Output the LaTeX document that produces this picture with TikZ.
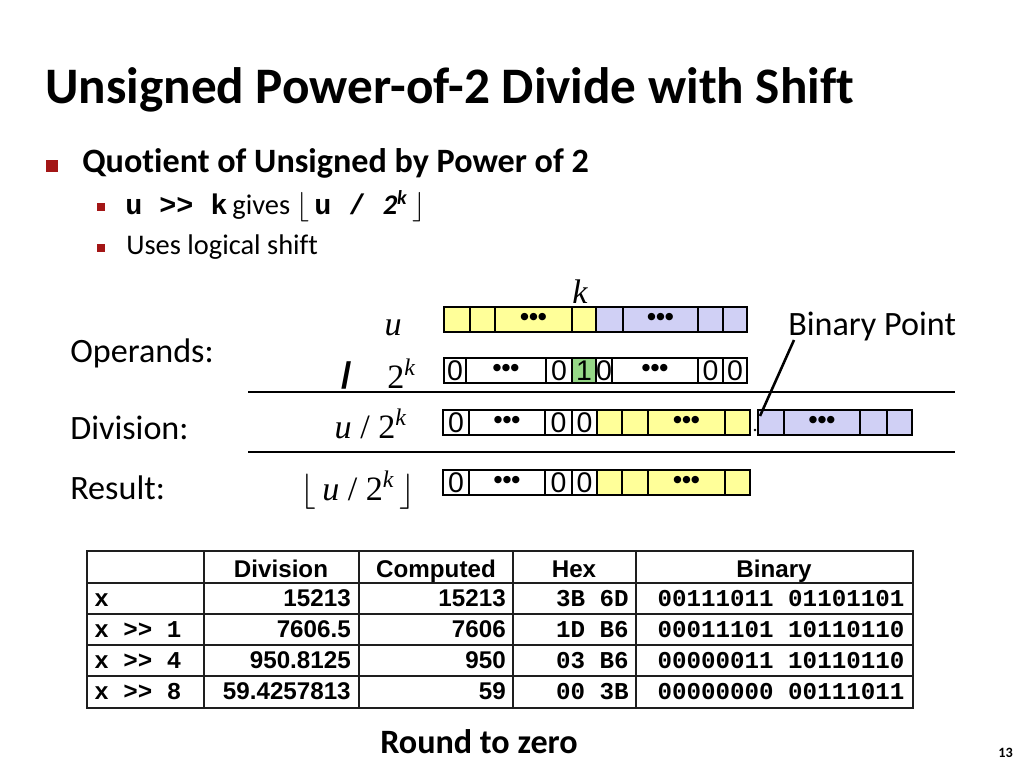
\documentclass[tikz,border=0pt]{standalone}
\usepackage{fontspec}
\setmainfont[Ligatures=NoCommon]{Carlito}
\newfontfamily\arialf{Liberation Sans}
\newfontfamily\courf{Liberation Mono}
\newfontfamily\tnrf{Liberation Serif}
\definecolor{bulletred}{RGB}{163,22,22}
\definecolor{ylw}{RGB}{255,255,153}
\definecolor{blu}{RGB}{208,208,245}
\definecolor{grn}{RGB}{150,215,135}
\definecolor{tblline}{RGB}{30,30,30}
\newcommand\bdots{{\arialf\bfseries\fontsize{18}{18}\selectfont •••}}
\newcommand\bcell[6]{\node[bitcell,fill=#5,minimum width={(#3-#2)*0.703125pt}] (#1) at ({(#2+#3)/2},#4) {#6};}
\begin{document}
\begin{tikzpicture}[x=0.703125pt,y=-0.703125pt,
  bitcell/.style={draw=black,line width=1.7pt,minimum height=17.6pt,inner sep=0pt,font=\arialf\fontsize{20}{20}\selectfont},
  txt/.style={anchor=base west,inner sep=0pt},
  bigsq/.style={fill=bulletred,minimum size=8.4pt,inner sep=0pt},
  smallsq/.style={fill=bulletred,minimum size=5pt,inner sep=0pt},
  mathlbl/.style={inner sep=0pt,font=\tnrf\fontsize{24}{28}\selectfont},
  rulestyle/.style={line width=2pt},
  tbl/.style={draw=tblline,line width=1.1pt},
  thead/.style={inner sep=0pt,anchor=base,font=\arialf\bfseries\fontsize{17}{20}\selectfont},
  tnum/.style={inner sep=0pt,anchor=base east,font=\arialf\bfseries\fontsize{17}{20}\selectfont},
  tmono/.style={inner sep=0pt,font=\courf\bfseries\fontsize{17}{20}\selectfont}]
\useasboundingbox (0,0) rectangle (1024,768);
\fill[white] (0,0) rectangle (1024,768);

% title
\node[txt,font=\bfseries\fontsize{36}{40}\selectfont] (title) at (45,104) {Unsigned Power-of-2 Divide with Shift};

% bullets
\node[bigsq] (sq1) at (52,166) {};
\node[txt,font=\bfseries\fontsize{24}{28}\selectfont] (b1) at (82,173) {Quotient of Unsigned by Power of 2};
\node[smallsq] (sq2) at (101,207) {};
\node[txt,font=\fontsize{20}{24}\selectfont] (b2) at (125,215)
  {{\courf\bfseries u >> k}\,gives $\lfloor$\,{\courf\bfseries u / }{\bfseries\itshape 2\textsuperscript{k}}\,$\rfloor$};
\node[smallsq] (sq3) at (101,248) {};
\node[txt,font=\fontsize{20}{24}\selectfont] (b3) at (126,255) {Uses logical shift};

% row labels
\node[txt,font=\fontsize{24}{28}\selectfont] (lop) at (70,362) {Operands:};
\node[txt,font=\fontsize{24}{28}\selectfont] (ldiv) at (70,439) {Division:};
\node[txt,font=\fontsize{24}{28}\selectfont] (lres) at (70,499) {Result:};

% math labels
\node[mathlbl,anchor=base] (lk) at (580,303) {\itshape k};
\node[mathlbl,anchor=base east] (lu) at (402,335) {\itshape u};
\node[inner sep=0pt,anchor=base,font=\arialf\bfseries\fontsize{26}{28}\selectfont] (lsl) at (347,388) {/};
\node[mathlbl,anchor=base west] (l2k) at (387,388) {2\textsuperscript{\itshape k}};
\node[mathlbl,anchor=base east] (ludiv) at (407,438) {\itshape u\upshape\ / 2\textsuperscript{\itshape k}};
\node[mathlbl,anchor=base east] (lufl) at (416,500) {$\lfloor$\,\itshape u\upshape\ / 2\textsuperscript{\itshape k}\,$\rfloor$};

% u row
\bcell{u1}{444}{470}{319.5}{ylw}{}
\bcell{u2}{470}{495}{319.5}{ylw}{}
\bcell{u3}{495}{572}{319.5}{ylw}{\bdots}
\bcell{u4}{572}{596}{319.5}{ylw}{}
\bcell{u5}{596}{623}{319.5}{blu}{}
\bcell{u6}{623}{698}{319.5}{blu}{\bdots}
\bcell{u7}{698}{723}{319.5}{blu}{}
\bcell{u8}{723}{747}{319.5}{blu}{}

% 2^k row
\bcell{p1}{444}{466}{370.5}{white}{0}
\bcell{p2}{466}{546}{370.5}{white}{\bdots}
\bcell{p3}{546}{572}{370.5}{white}{0}
\bcell{p4}{572}{596}{370.5}{grn}{1}
\bcell{p5}{596}{612}{370.5}{white}{0}
\bcell{p6}{612}{698}{370.5}{white}{\bdots}
\bcell{p7}{698}{723}{370.5}{white}{0}
\bcell{p8}{723}{747}{370.5}{white}{0}

% rules
\draw[rulestyle] (248,392) -- (955,392);
\draw[rulestyle] (248,452) -- (955,452);

% division row
\bcell{d1}{443}{469}{422.5}{white}{0}
\bcell{d2}{469}{545}{422.5}{white}{\bdots}
\bcell{d3}{545}{572}{422.5}{white}{0}
\bcell{d4}{572}{597}{422.5}{white}{0}
\bcell{d5}{597}{622}{422.5}{ylw}{}
\bcell{d6}{622}{648}{422.5}{ylw}{}
\bcell{d7}{648}{725}{422.5}{ylw}{\bdots}
\bcell{d8}{725}{750}{422.5}{ylw}{}
\bcell{f1}{758}{784}{422.5}{blu}{}
\bcell{f2}{784}{860}{422.5}{blu}{\bdots}
\bcell{f3}{860}{887}{422.5}{blu}{}
\bcell{f4}{887}{912}{422.5}{blu}{}

% result row
\bcell{r1}{443}{469}{482.5}{white}{0}
\bcell{r2}{469}{545}{482.5}{white}{\bdots}
\bcell{r3}{545}{572}{482.5}{white}{0}
\bcell{r4}{572}{597}{482.5}{white}{0}
\bcell{r5}{597}{622}{482.5}{ylw}{}
\bcell{r6}{622}{648}{482.5}{ylw}{}
\bcell{r7}{648}{725}{482.5}{ylw}{\bdots}
\bcell{r8}{725}{750}{482.5}{ylw}{}

% binary point
\node[txt,font=\fontsize{24}{28}\selectfont] (bp) at (788,335) {Binary Point};
\coordinate (bpdot) at (755,430);
\fill (bpdot) circle (1.4);
\coordinate (ptrstart) at (794,340);
\coordinate (ptrend) at (760,416);
\draw[line width=1.8pt] (ptrstart) -- (ptrend);

% table
\draw[tbl] (87,551) rectangle (913,708);
\foreach \yy in {583,614,645,676} \draw[tbl] (87,\yy) -- (913,\yy);
\foreach \xx in {204,359,513,636} \draw[tbl] (\xx,551) -- (\xx,708);
\node[thead] (h1) at (281,577) {Division};
\node[thead] (h2) at (436,577) {Computed};
\node[thead] (h3) at (574,577) {Hex};
\node[thead] (h4) at (774,577) {Binary};
\foreach \i/\a/\b/\c/\d/\e in {0/x/15213/15213/3B 6D/00111011 01101101,
   1/x >> 1/7606.5/7606/1D B6/00011101 10110110,
   2/x >> 4/950.8125/950/03 B6/00000011 10110110,
   3/x >> 8/59.4257813/59/00 3B/00000000 00111011}{
  \node[tmono,anchor=base west] (c1-\i) at (94,606+31*\i) {\a};
  \node[tnum] (c2-\i) at (351,606+31*\i) {\b};
  \node[tnum] (c3-\i) at (506,606+31*\i) {\c};
  \node[tmono,anchor=base east] (c4-\i) at (629,606+31*\i) {\d};
  \node[tmono,anchor=base] (c5-\i) at (781,606+31*\i) {\e};
}

% footer
\node[txt,font=\bfseries\fontsize{24}{28}\selectfont] (foot) at (380,753) {Round to zero};
\node[txt,font=\bfseries\fontsize{10}{12}\selectfont] (pg) at (998,757) {13};
\end{tikzpicture}
\end{document}
